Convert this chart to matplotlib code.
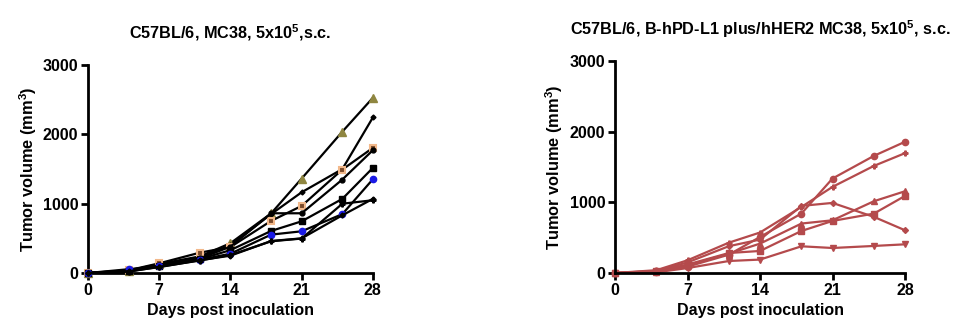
import matplotlib
matplotlib.use("Agg")
import matplotlib.pyplot as plt

plt.rcParams['font.family'] = ['Liberation Sans', 'DejaVu Sans']
plt.rcParams['font.weight'] = 'bold'
plt.rcParams['mathtext.fontset'] = 'custom'
plt.rcParams['mathtext.rm'] = 'Liberation Sans:bold'
plt.rcParams['mathtext.bf'] = 'Liberation Sans:bold'
plt.rcParams['mathtext.default'] = 'bf'

days = [0, 4, 7, 11, 14, 18, 21, 25, 28]

# left panel: C57BL/6, MC38 (one line per mouse)
mc38_a = [0, 35, 130, 240, 430, 860, 1363, 2040, 2528]
mc38_b = [0, 30, 120, 220, 400, 850, 1165, 1500, 2244]
mc38_c = [0, 40, 140, 294, 375, 752, 968, 1493, 1806]
mc38_d = [0, 30, 110, 210, 380, 862, 862, 1349, 1772]
mc38_e = [0, 25, 100, 200, 330, 607, 746, 1070, 1517]
mc38_f = [0, 55, 95, 190, 279, 554, 602, 850, 1353]
mc38_g = [0, 20, 90, 180, 260, 458, 497, 1000, 1050]
mc38_h = [0, 25, 85, 185, 250, 462, 500, 833, 1070]

# right panel: B-hPD-L1 plus/hHER2 MC38
hum_a = [0, 20, 90, 260, 510, 842, 1337, 1658, 1857]
hum_b = [0, 40, 180, 430, 573, 935, 1219, 1516, 1696]
hum_c = [0, 30, 150, 380, 473, 950, 992, 794, 605]
hum_d = [0, 15, 110, 274, 416, 700, 746, 1016, 1157]
hum_e = [0, 25, 120, 283, 312, 595, 737, 841, 1091]
hum_f = [0, 10, 70, 170, 190, 378, 354, 383, 406]

fig = plt.figure(figsize=(9.59, 3.30), dpi=100)
ax1 = fig.add_axes([0.0918, 0.1727, 0.297, 0.630])
ax2 = fig.add_axes([0.6413, 0.1727, 0.3024, 0.6424])

lw = 1.6
ms = 4
ax1.plot(days, mc38_a, '-^', color='black', lw=lw, ms=ms + 1.5, mfc='#8f8640', mec='#8f8640', zorder=3)
ax1.plot(days, mc38_b, '-D', color='black', lw=lw, ms=2.5, zorder=3)
ax1.plot(days, mc38_c, '-s', color='black', lw=lw, ms=ms + 1, mfc='#7a4a2a', mec='#f2b88a', mew=1.5, zorder=3)
ax1.plot(days, mc38_d, '-o', color='black', lw=lw, ms=ms - 0.5, zorder=3)
ax1.plot(days, mc38_e, '-s', color='black', lw=lw, ms=ms, zorder=3)
ax1.plot(days, mc38_f, '-o', color='black', lw=lw, ms=ms + 0.5, mfc='#1a1ae6', mec='#1a1ae6', zorder=3)
ax1.plot(days, mc38_g, '-P', color='black', lw=lw, ms=ms - 0.5, zorder=3)
ax1.plot(days, mc38_h, '-D', color='black', lw=lw, ms=ms - 1.5, zorder=3)

red = '#b44a4c'
ax2.plot(days, hum_a, '-o', color=red, lw=lw, ms=ms + 0.5)
ax2.plot(days, hum_b, '-P', color=red, lw=lw, ms=ms - 0.5)
ax2.plot(days, hum_c, '-D', color=red, lw=lw, ms=ms - 1)
ax2.plot(days, hum_d, '-^', color=red, lw=lw, ms=ms)
ax2.plot(days, hum_e, '-s', color=red, lw=lw, ms=ms)
ax2.plot(days, hum_f, '-v', color=red, lw=lw, ms=ms)

titles = [r"C57BL/6, MC38, 5x10$^{5}$,s.c.",
          r"C57BL/6, B-hPD-L1 plus/hHER2 MC38, 5x10$^{5}$, s.c."]
for ax, t in zip([ax1, ax2], titles):
    ax.set_xlim(0, 28)
    ax.set_ylim(0, 3000)
    ax.set_xticks([0, 7, 14, 21, 28])
    ax.set_yticks([0, 1000, 2000, 3000])
    for s in ['top', 'right']:
        ax.spines[s].set_visible(False)
    for s in ['left', 'bottom']:
        ax.spines[s].set_linewidth(2)
    ax.tick_params(width=2, length=5, labelsize=11.5, pad=2)
    for lab in ax.get_xticklabels() + ax.get_yticklabels():
        lab.set_fontweight('bold')
    ax.set_xlabel('Days post inoculation', fontsize=11.5, fontweight='bold', labelpad=4)
    ax.set_ylabel(r'Tumor volume (mm$^{3}$)', fontsize=11.8, fontweight='bold', labelpad=3)
    ax.set_title(t, fontsize=11.7, fontweight='bold', pad=19)
    for line in ax.get_lines():
        line.set_clip_on(False)

fig.savefig('out.png', dpi=100)
